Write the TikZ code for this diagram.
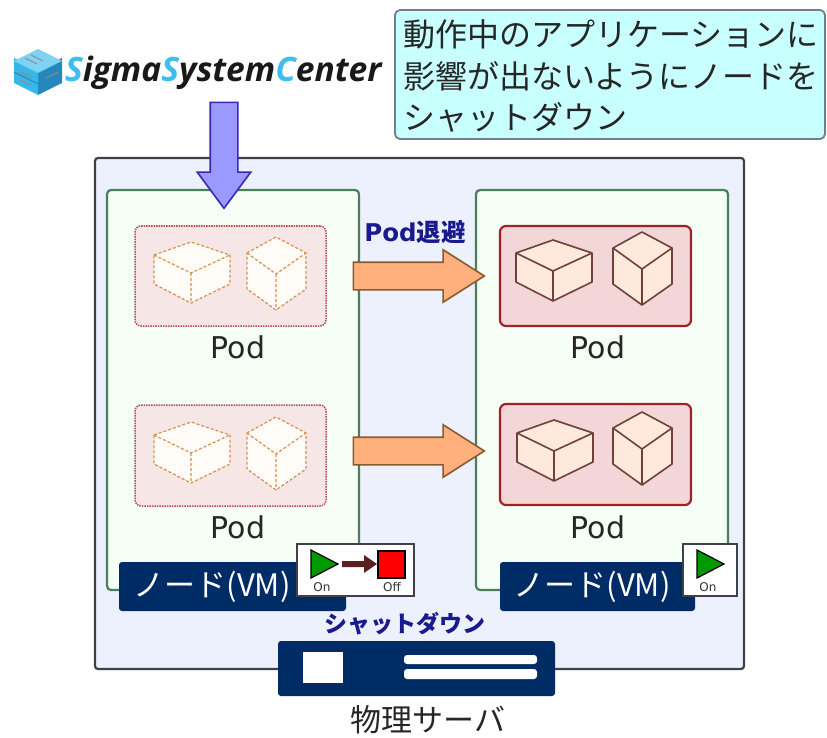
\documentclass[tikz,border=0pt]{standalone}
\usepackage{fontspec}
\setmainfont{DejaVu Sans}
\newfontfamily\jpfont{Noto Sans CJK JP}
\newfontfamily\logofont{Open Sans}
\usetikzlibrary{shapes.arrows}
\definecolor{outerfill}{HTML}{EDF1FE}
\definecolor{outerline}{HTML}{404048}
\definecolor{nodefill}{HTML}{F6FFF6}
\definecolor{nodeline}{HTML}{4A7F5A}
\definecolor{navybar}{HTML}{002C66}
\definecolor{calloutfill}{HTML}{C8FFFF}
\definecolor{calloutline}{HTML}{708090}
\definecolor{labelblue}{HTML}{1A1A90}
\definecolor{downfill}{HTML}{9999FF}
\definecolor{downline}{HTML}{3A2AB0}
\definecolor{orangefill}{HTML}{FFB07C}
\definecolor{orangeline}{HTML}{8A5A30}
\definecolor{podlive}{HTML}{F2D6D8}
\definecolor{podgone}{HTML}{F6E6E6}
\definecolor{podedge}{HTML}{A02028}
\definecolor{cubelive}{HTML}{FFE9DD}
\definecolor{cubeedge}{HTML}{70403A}
\definecolor{cubegone}{HTML}{FFFCF8}
\definecolor{cubedash}{HTML}{D89050}
\definecolor{logoa}{HTML}{7FD3F2}
\definecolor{logob}{HTML}{38B6E8}
\definecolor{logoc}{HTML}{2488BC}
\definecolor{logotext}{HTML}{40BDF0}
\definecolor{statusgreen}{HTML}{009A00}
\definecolor{statusarrow}{HTML}{5A2020}
\tikzset{
  x=1pt,y=-1pt,
  box/.style={rectangle,inner sep=0,outer sep=0},
  outerbox/.style={box,draw=outerline,fill=outerfill,line width=2.2pt,rounded corners=3pt},
  vmbox/.style={box,draw=nodeline,fill=nodefill,line width=2.2pt,rounded corners=4pt},
  podlivebox/.style={box,draw=podedge,fill=podlive,line width=2.2pt,rounded corners=6pt},
  podgonebox/.style={box,draw=podedge!80,fill=podgone,line width=1.5pt,densely dotted,rounded corners=6pt},
  navy/.style={box,fill=navybar,rounded corners=3pt},
  statusbox/.style={box,draw=outerline,fill=white,line width=2pt},
  txt/.style={inner sep=0,outer sep=0,anchor=center},
  podlabel/.style={txt,text=black!85,font=\fontsize{30}{36}\selectfont},
  vmlabel/.style={txt,text=white,font=\fontsize{31}{36}\selectfont\jpfont},
  boldlabel/.style={txt,text=labelblue,font=\fontsize{24.5}{28}\selectfont\bfseries},
  onoff/.style={txt,text=black!80,font=\fontsize{12}{14}\selectfont},
  orangearrow/.style={single arrow,draw=orangeline,fill=orangefill,line width=1.6pt,inner sep=13pt,
    minimum height=131pt,minimum width=51pt,single arrow head extend=12.5pt,single arrow tip angle=65},
  downarrow/.style={single arrow,draw=downline,fill=downfill,line width=1.6pt,inner sep=13pt,shape border rotate=270,
    minimum height=106pt,minimum width=52pt,single arrow head extend=13pt,single arrow tip angle=73},
  cubelivestyle/.style={draw=cubeedge,fill=cubelive,line width=1.6pt,line join=round},
  cubegonestyle/.style={draw=cubedash,fill=cubegone,line width=1.2pt,densely dashed,line join=round},
}
\newcommand{\widecube}[3]{\begin{scope}[shift={(#1,#2)}]
  \draw[#3] (0,0)--(37,-13)--(76,0)--(76,29)--(37,48)--(0,29)--cycle;
  \draw[#3,fill=none] (0,0)--(37,18)--(76,0) (37,18)--(37,48);
\end{scope}}
\newcommand{\tallcube}[3]{\begin{scope}[shift={(#1,#2)}]
  \draw[#3] (0,0)--(29,-16)--(59,0)--(59,36)--(29,57)--(0,36)--cycle;
  \draw[#3,fill=none] (0,0)--(29,21)--(59,0) (29,21)--(29,57);
\end{scope}}
\newcommand{\boxat}[6]{\node[#1,minimum width=#5pt-#3pt,minimum height=#6pt-#4pt] (#2) at ({(#3+#5)/2},{(#4+#6)/2}) {};}
\begin{document}
\begin{tikzpicture}
\useasboundingbox (0,0) rectangle (827,738);
\fill[white] (0,0) rectangle (827,738);

% logo
\begin{scope}
  \fill[logoc] (38,70)--(62,58)--(62,83)--(38,95)--cycle;
  \fill[logob] (38,70)--(14,58)--(14,83)--(38,95)--cycle;
  \fill[logoa] (14,61)--(38,49)--(62,61)--(38,73)--cycle;
  \draw[logoc,line width=1pt] (14,72)--(38,84)--(62,72);
  \draw[black!45,line width=.9pt] (25,58)--(37,64) (31,55)--(43,61);
  \draw[black!45,line width=.9pt] (20,72)--(32,78) (20,80)--(30,85) (46,78)--(58,72);
\end{scope}
\node[txt,anchor=base west,font=\fontsize{33.6}{40}\selectfont\logofont\bfseries\itshape,text=black!90] (logo) at (65,82)
  {\textcolor{logotext}{S}igma\textcolor{logotext}{S}ystem\textcolor{logotext}{C}enter};

% callout
\boxat{box,draw=calloutline,fill=calloutfill,line width=1.8pt,rounded corners=5pt}{callout}{395}{10}{825}{139}
\node[txt,anchor=west,font=\fontsize{32}{40}\selectfont\jpfont,text=black!85] (c1) at (403,34) {動作中のアプリケーションに};
\node[txt,anchor=west,font=\fontsize{32}{40}\selectfont\jpfont,text=black!85] (c2) at (403,76) {影響が出ないようにノードを};
\node[txt,anchor=west,font=\fontsize{32}{40}\selectfont\jpfont,text=black!85] (c3) at (403,117) {シャットダウン};

% physical server
\boxat{outerbox}{server}{95}{158}{744}{669}
\boxat{vmbox}{vmleft}{107}{190}{359}{590}
\boxat{vmbox}{vmright}{476}{190}{728}{590}

% pods, left (gone)
\boxat{podgonebox}{podA}{135}{226}{326}{326}
\boxat{podgonebox}{podB}{135}{405}{326}{506}
\widecube{154}{255}{cubegonestyle}
\tallcube{247}{253}{cubegonestyle}
\widecube{154}{435}{cubegonestyle}
\tallcube{247}{433}{cubegonestyle}
\node[podlabel] (lA) at (238,347) {Pod};
\node[podlabel] (lB) at (238,527) {Pod};

% pods, right (live)
\boxat{podlivebox}{podC}{500}{226}{691}{326}
\boxat{podlivebox}{podD}{500}{404}{691}{505}
\widecube{516}{253}{cubelivestyle}
\tallcube{613}{248}{cubelivestyle}
\widecube{517}{433}{cubelivestyle}
\tallcube{613}{428}{cubelivestyle}
\node[podlabel] (lC) at (598,347) {Pod};
\node[podlabel] (lD) at (598,527) {Pod};

% arrows
\node[downarrow] (down) at (224,146) {};
\node[orangearrow] (moveA) at (408,276) {};
\node[orangearrow] (moveB) at (408,451) {};
\node[boldlabel] (evac) at (415,232) {Pod{\jpfont\bfseries 退避}};

% node labels
\boxat{navy}{barL}{119}{562}{346}{611}
\boxat{navy}{barR}{500}{562}{695}{611}
\node[vmlabel] (vmL) at (212,587) {ノード(VM)};
\node[vmlabel] (vmR) at (592,587) {ノード(VM)};

% status icons
\boxat{statusbox}{stL}{297}{544}{414}{596}
\boxat{statusbox}{stR}{683}{544}{737}{596}
\draw[black,fill=statusgreen,line width=1.2pt] (311,550)--(338,564)--(311,578)--cycle;
\draw[black,fill=red,line width=1.8pt] (378,551) rectangle (405,578);
\fill[statusarrow] (342,561)--(364,561)--(364,555)--(377,564)--(364,573)--(364,567)--(342,567)--cycle;
\node[onoff] (onL) at (322,587) {On};
\node[onoff] (offL) at (392,587) {Off};
\draw[black,fill=statusgreen,line width=1.2pt] (697,550)--(724,564)--(697,578)--cycle;
\node[onoff] (onR) at (708,587) {On};

% server front
\node[boldlabel,font=\fontsize{23}{26}\selectfont\jpfont\bfseries] (down-label) at (405,624) {シャットダウン};
\boxat{navy}{front}{278}{641}{555}{696}
\fill[white] (303,652) rectangle (343,683);
\fill[white,rounded corners=3pt] (404,655) rectangle (537,664);
\fill[white,rounded corners=3pt] (404,669) rectangle (537,679);
\node[txt,font=\fontsize{31}{36}\selectfont\jpfont,text=black!85] (phys) at (428,720) {物理サーバ};
\end{tikzpicture}
\end{document}
